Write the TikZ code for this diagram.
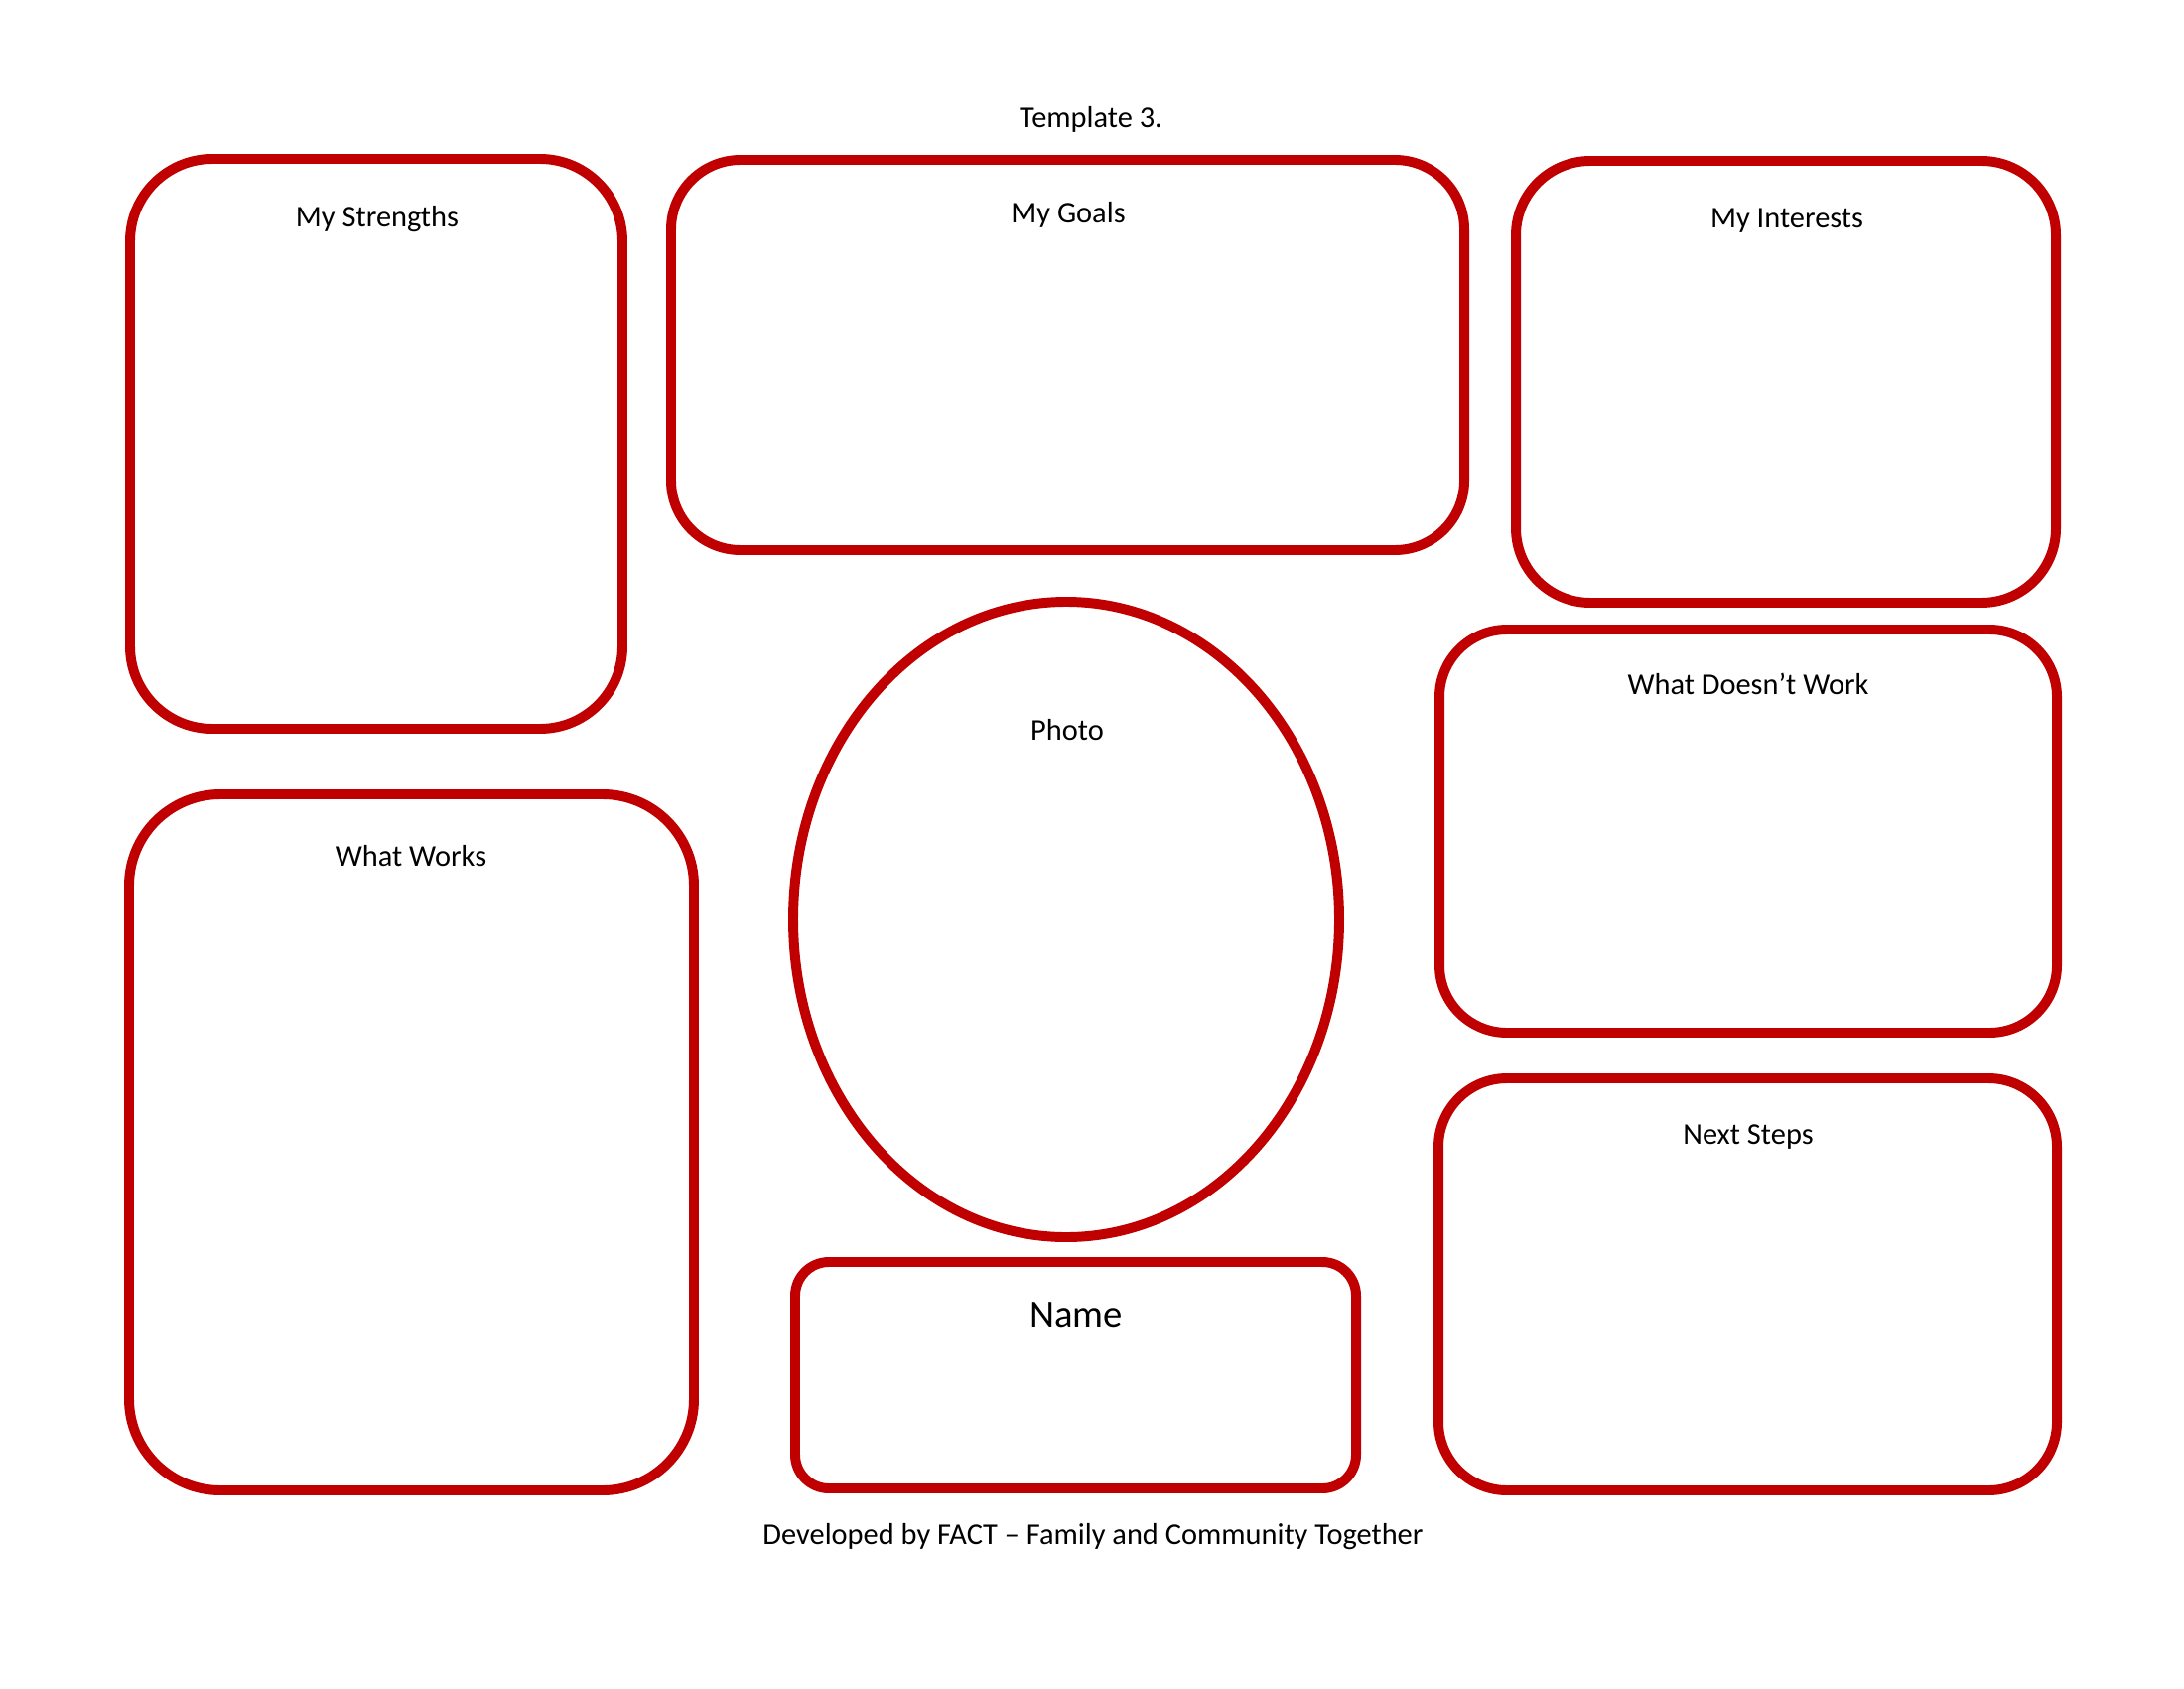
\documentclass[tikz,border=0pt]{standalone}
\usepackage{fontspec}
\setmainfont{Carlito}
\definecolor{factred}{HTML}{C00000}

\begin{document}
\begin{tikzpicture}[x=0.005in, y=-0.005in,
    panel/.style={draw=factred, line width=3.6pt},
    boxtitle/.style={font=\fontsize{11}{13}\selectfont, text height=0.7em, text depth=0.2em, inner sep=0pt}]
  \useasboundingbox (0,0) rectangle (2200,1700);
  % titulo
  \node[boxtitle] (title) at (1099,122) {Template 3.};
  % fila superior
  \draw[panel, rounded corners=0.415in] (131,160) rectangle (627,734);
  \node[boxtitle] (strengths) at (380,222) {My Strengths};
  \draw[panel, rounded corners=0.35in] (676,161) rectangle (1475,554);
  \node[boxtitle] (goals) at (1076,218) {My Goals};
  \draw[panel, rounded corners=0.375in] (1527,162) rectangle (2071,607);
  \node[boxtitle] (interests) at (1800,223) {My Interests};
  % izquierda abajo
  \draw[panel, rounded corners=0.46in] (130,800) rectangle (699,1501);
  \node[boxtitle] (works) at (414,866) {What Works};
  % foto y nombre
  \draw[panel] (1074,926) ellipse [x radius=275, y radius=320];
  \node[boxtitle] (photo) at (1075,739) {Photo};
  \draw[panel, rounded corners=0.17in] (801,1271) rectangle (1366,1499);
  \node[boxtitle, font=\fontsize{14}{16}\selectfont] (name) at (1084,1330) {Name};
  % derecha abajo
  \draw[panel, rounded corners=0.34in] (1450,634) rectangle (2072,1040);
  \node[boxtitle] (doesnt) at (1761,693) {What Doesn’t Work};
  \draw[panel, rounded corners=0.345in] (1449,1086) rectangle (2072,1501);
  \node[boxtitle] (nextsteps) at (1761,1146) {Next Steps};
  % pie
  \node[boxtitle] (footer) at (1101,1549) {Developed by FACT – Family and Community Together};
\end{tikzpicture}
\end{document}
